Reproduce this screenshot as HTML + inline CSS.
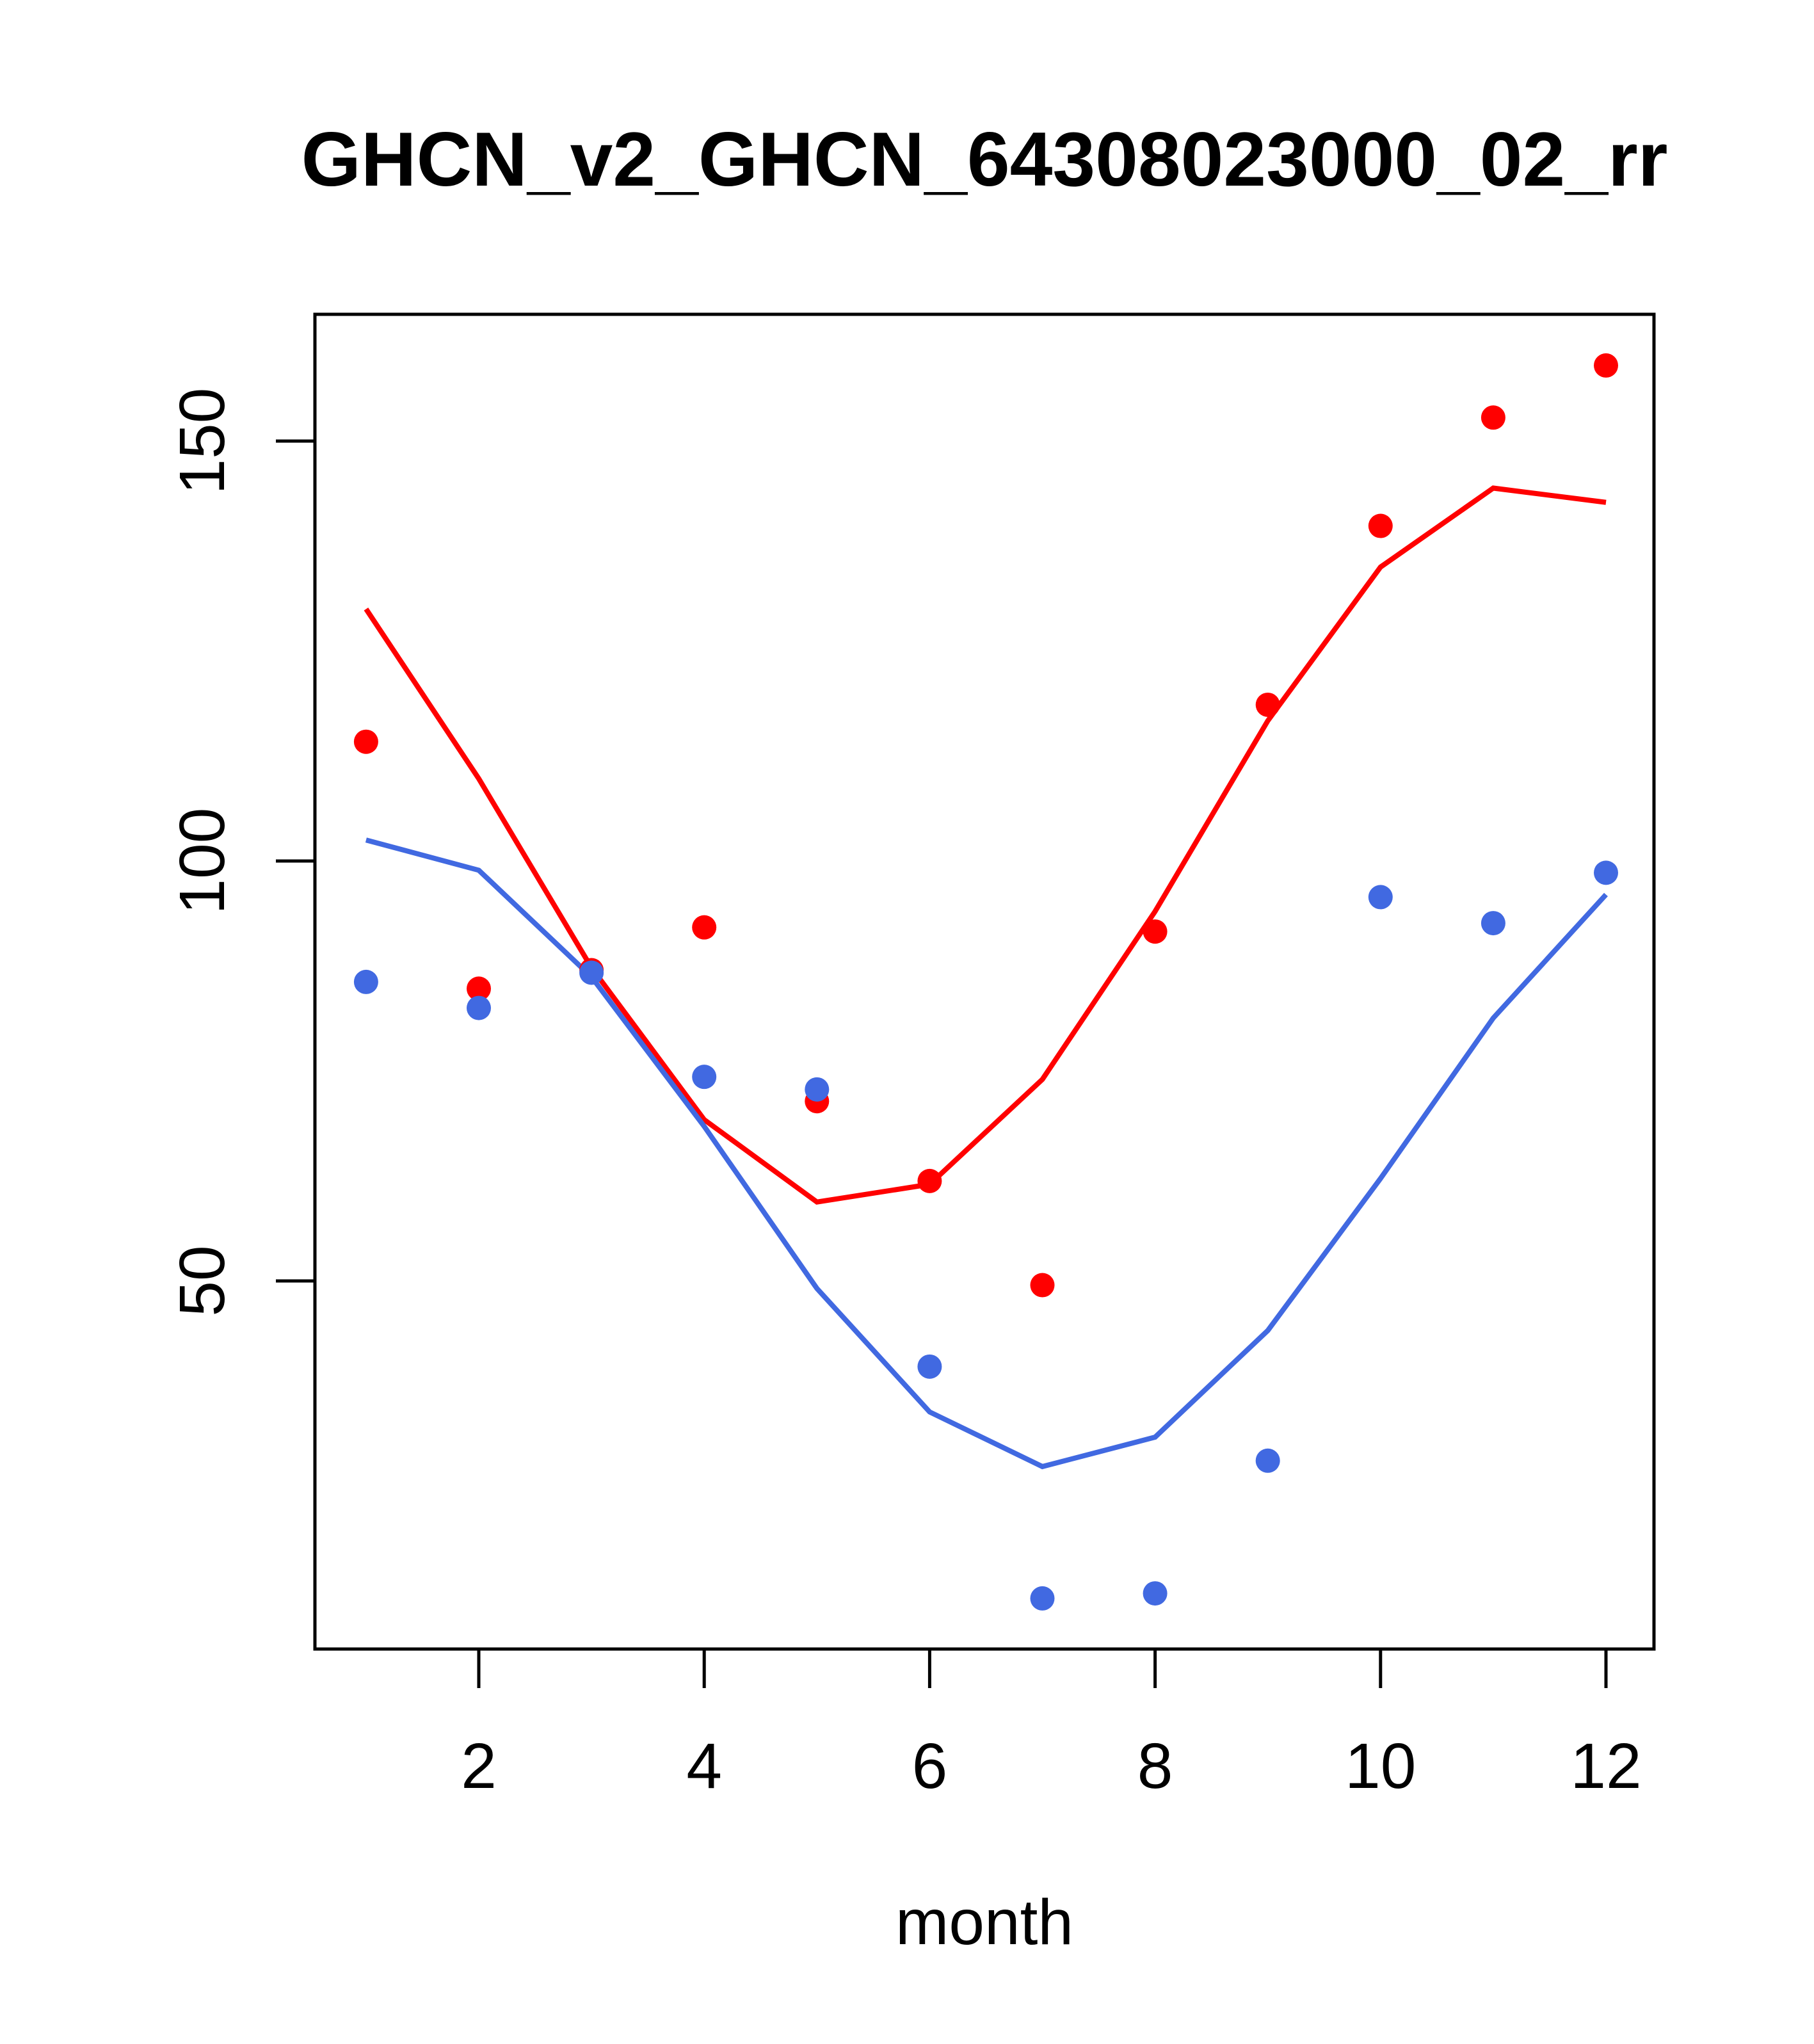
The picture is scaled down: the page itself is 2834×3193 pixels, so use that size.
<!DOCTYPE html>
<html><head><meta charset="utf-8"><style>html,body{margin:0;padding:0;background:#fff}</style></head>
<body>
<svg id="chart" width="2834" height="3188" xmlns="http://www.w3.org/2000/svg" font-family="Liberation Sans, sans-serif">
<rect width="2834" height="3188" fill="#fff"/>
<text x="1538" y="290" font-size="120" font-weight="bold" text-anchor="middle">GHCN_v2_GHCN_64308023000_02_rr</text>
<rect x="492" y="491" width="2092" height="2085" fill="none" stroke="#000" stroke-width="5"/>
<g id="axes"></g>
<g id="series"></g>
<text x="1538" y="3037" font-size="100" text-anchor="middle">month</text>
</svg>
<script>
const months = [1,2,3,4,5,6,7,8,9,10,11,12];
const redPoints = [114.2,84.8,87,92.1,71.4,61.9,49.5,91.6,118.6,139.9,152.8,159];
const redLine = [130,109.8,87.3,69.2,59.4,61.5,74,94,116.7,135,144.4,142.7];
const bluePoints = [85.6,82.5,86.7,74.3,72.8,39.8,12.2,12.8,28.6,95.7,92.6,98.6];
const blueLine = [102.5,98.9,86.2,68.4,49.1,34.4,27.9,31.4,44.1,62.2,81.3,96];
const xTicks = [2,4,6,8,10,12];
const yTicks = [50,100,150];

const NS='http://www.w3.org/2000/svg';
function xS(m){return 748+(m-2)*176.1;}
function yS(v){return 1345-(v-100)*13.12;}
function mk(tag,attrs,parent){const e=document.createElementNS(NS,tag);for(const k in attrs)e.setAttribute(k,attrs[k]);parent.appendChild(e);return e;}
const axes=document.getElementById('axes');
xTicks.forEach(t=>{
  const l=mk('line',{x1:xS(t),x2:xS(t),y1:2576,y2:2637,stroke:'#000','stroke-width':5},axes);
  
  
  const tx=mk('text',{x:xS(t),y:2793,'font-size':100,'text-anchor':'middle'},axes);
  
  
  tx.textContent=t;
});
yTicks.forEach(t=>{
  const l=mk('line',{x1:431,x2:492,y1:yS(t),y2:yS(t),stroke:'#000','stroke-width':5},axes);
  
  
  const tx=mk('text',{x:350,y:yS(t),'font-size':100,'text-anchor':'middle',transform:'rotate(-90 350 '+yS(t)+')'},axes);
  
  
  tx.textContent=t;
});
const g=document.getElementById('series');
function line(vals,color,name){
  const p=mk('polyline',{points:months.map((m,i)=>xS(m)+','+yS(vals[i])).join(' '),fill:'none',stroke:color,'stroke-width':8},g);
  
  
}
function pts(vals,color,name){
  months.forEach((m,i)=>{
    const c=mk('circle',{cx:xS(m),cy:yS(vals[i]),r:19,fill:color},g);
    
    
  });
}
line(redLine,'#ff0000','red-line');
line(blueLine,'#4169e1','blue-line');
pts(redPoints,'#ff0000','red-point');
pts(bluePoints,'#4169e1','blue-point');
</script>
</body></html>
